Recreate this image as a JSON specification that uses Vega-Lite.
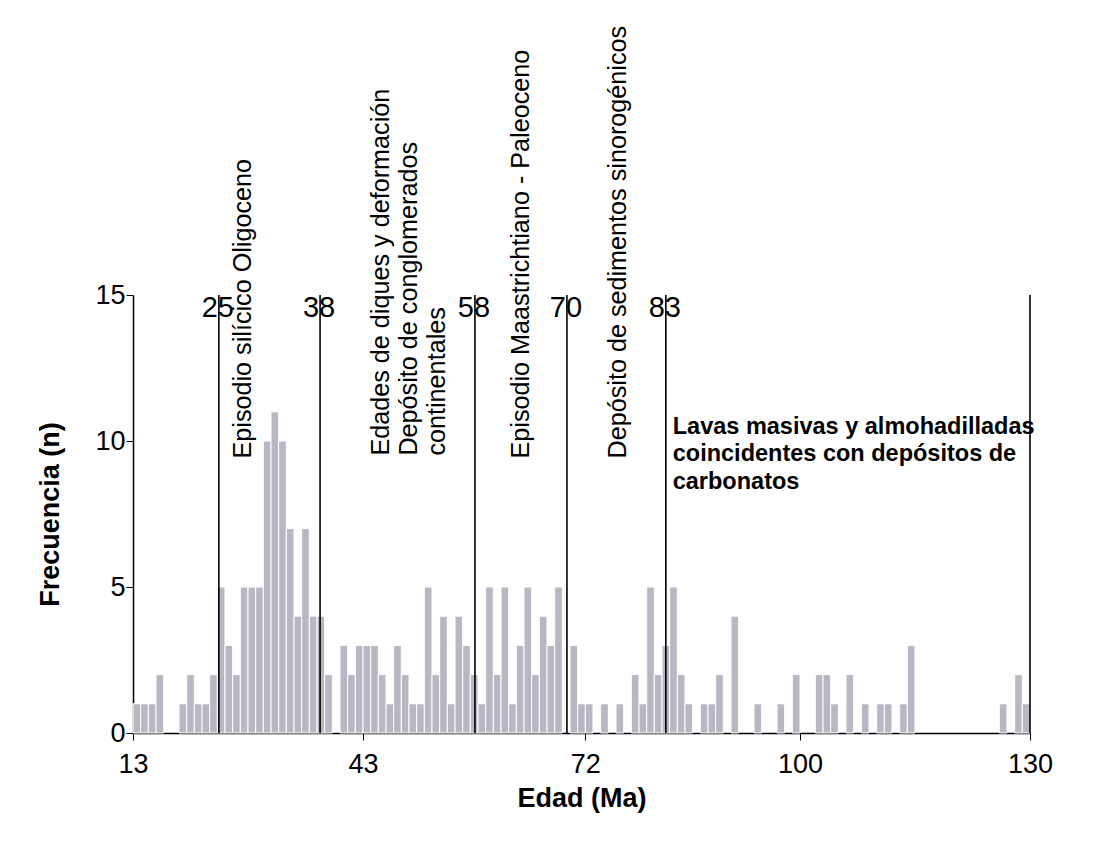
{
  "$schema": "https://vega.github.io/schema/vega-lite/v6.json",
  "width": 897,
  "height": 438,
  "autosize": {"type": "none"},
  "padding": {"left": 133, "top": 295, "right": 80, "bottom": 116},
  "background": "white",
  "config": {"view": {"stroke": null}, "font": "Liberation Sans"},
  "datasets": {
    "bars": [
      {"start": 13, "end": 14, "n": 1}, {"start": 14, "end": 15, "n": 1}, {"start": 15, "end": 16, "n": 1}, {"start": 16, "end": 17, "n": 2},
      {"start": 19, "end": 20, "n": 1}, {"start": 20, "end": 21, "n": 2}, {"start": 21, "end": 22, "n": 1}, {"start": 22, "end": 23, "n": 1},
      {"start": 23, "end": 24, "n": 2}, {"start": 24, "end": 25, "n": 5}, {"start": 25, "end": 26, "n": 3}, {"start": 26, "end": 27, "n": 2},
      {"start": 27, "end": 28, "n": 5}, {"start": 28, "end": 29, "n": 5}, {"start": 29, "end": 30, "n": 5}, {"start": 30, "end": 31, "n": 10},
      {"start": 31, "end": 32, "n": 11}, {"start": 32, "end": 33, "n": 10}, {"start": 33, "end": 34, "n": 7}, {"start": 34, "end": 35, "n": 4},
      {"start": 35, "end": 36, "n": 7}, {"start": 36, "end": 37, "n": 4}, {"start": 37, "end": 38, "n": 4}, {"start": 38, "end": 39, "n": 2},
      {"start": 40, "end": 41, "n": 3}, {"start": 41, "end": 42, "n": 2}, {"start": 42, "end": 43, "n": 3}, {"start": 43, "end": 44, "n": 3},
      {"start": 44, "end": 45, "n": 3}, {"start": 45, "end": 46, "n": 2}, {"start": 46, "end": 47, "n": 1}, {"start": 47, "end": 48, "n": 3},
      {"start": 48, "end": 49, "n": 2}, {"start": 49, "end": 50, "n": 1}, {"start": 50, "end": 51, "n": 1}, {"start": 51, "end": 52, "n": 5},
      {"start": 52, "end": 53, "n": 2}, {"start": 53, "end": 54, "n": 4}, {"start": 54, "end": 55, "n": 1}, {"start": 55, "end": 56, "n": 4},
      {"start": 56, "end": 57, "n": 3}, {"start": 57, "end": 58, "n": 2}, {"start": 58, "end": 59, "n": 1}, {"start": 59, "end": 60, "n": 5},
      {"start": 60, "end": 61, "n": 2}, {"start": 61, "end": 62, "n": 5}, {"start": 62, "end": 63, "n": 1}, {"start": 63, "end": 64, "n": 3},
      {"start": 64, "end": 65, "n": 5}, {"start": 65, "end": 66, "n": 2}, {"start": 66, "end": 67, "n": 4}, {"start": 67, "end": 68, "n": 3},
      {"start": 68, "end": 69, "n": 5}, {"start": 70, "end": 71, "n": 3}, {"start": 71, "end": 72, "n": 1}, {"start": 72, "end": 73, "n": 1},
      {"start": 74, "end": 75, "n": 1}, {"start": 76, "end": 77, "n": 1}, {"start": 78, "end": 79, "n": 2}, {"start": 79, "end": 80, "n": 1},
      {"start": 80, "end": 81, "n": 5}, {"start": 81, "end": 82, "n": 2}, {"start": 82, "end": 83, "n": 3}, {"start": 83, "end": 84, "n": 5},
      {"start": 84, "end": 85, "n": 2}, {"start": 85, "end": 86, "n": 1}, {"start": 87, "end": 88, "n": 1}, {"start": 88, "end": 89, "n": 1},
      {"start": 89, "end": 90, "n": 2}, {"start": 91, "end": 92, "n": 4}, {"start": 94, "end": 95, "n": 1}, {"start": 97, "end": 98, "n": 1},
      {"start": 99, "end": 100, "n": 2}, {"start": 102, "end": 103, "n": 2}, {"start": 103, "end": 104, "n": 2}, {"start": 104, "end": 105, "n": 1},
      {"start": 106, "end": 107, "n": 2}, {"start": 108, "end": 109, "n": 1}, {"start": 110, "end": 111, "n": 1}, {"start": 111, "end": 112, "n": 1},
      {"start": 113, "end": 114, "n": 1}, {"start": 114, "end": 115, "n": 3}, {"start": 126, "end": 127, "n": 1}, {"start": 128, "end": 129, "n": 2},
      {"start": 129, "end": 130, "n": 1}
    ],
    "lines": [
      {"pos": 24.2, "label": "25"}, {"pos": 37.4, "label": "38"}, {"pos": 57.6, "label": "58"},
      {"pos": 69.6, "label": "70"}, {"pos": 82.5, "label": "83"}, {"pos": 130, "label": ""}
    ],
    "vlabels": [
      {"x": 27.4, "y": 9.4, "text": "Episodio silícico Oligoceno"},
      {"x": 45.3, "y": 9.5, "text": "Edades de diques y deformación"},
      {"x": 49.0, "y": 9.5, "text": "Depósito de conglomerados"},
      {"x": 52.6, "y": 9.5, "text": "continentales"},
      {"x": 63.6, "y": 9.4, "text": "Episodio Maastrichtiano - Paleoceno"},
      {"x": 76.3, "y": 9.4, "text": "Depósito de sedimentos sinorogénicos"}
    ],
    "hlabels": [
      {"x": 83.4, "y": 10.48, "text": "Lavas masivas y almohadilladas"},
      {"x": 83.4, "y": 9.54, "text": "coincidentes con depósitos de"},
      {"x": 83.4, "y": 8.6, "text": "carbonatos"}
    ]
  },
  "layer": [
    {
      "data": {"name": "bars"},
      "mark": {"type": "rect", "color": "#b8b8c4", "stroke": "white", "strokeWidth": 1},
      "encoding": {
        "x": {
          "field": "start", "type": "quantitative",
          "scale": {"domain": [13, 130], "nice": false, "zero": false},
          "axis": {
            "values": [13, 43, 72, 100, 130], "grid": false, "title": "Edad (Ma)", "labelFlush": false,
            "domainColor": "black", "domainWidth": 1.5, "tickColor": "black", "tickSize": 7,
            "labelFontSize": 27, "labelColor": "black", "labelPadding": 11, "labelFont": "Liberation Sans",
            "titleFontSize": 27, "titleFontWeight": "bold", "titleColor": "black", "titlePadding": 8, "titleFont": "Liberation Sans"
          }
        },
        "x2": {"field": "end"},
        "y": {
          "field": "n", "type": "quantitative",
          "scale": {"domain": [0, 15], "nice": false},
          "axis": {
            "values": [0, 5, 10, 15], "grid": false, "title": "Frecuencia (n)",
            "domainColor": "black", "domainWidth": 1.5, "tickColor": "black", "tickSize": 7,
            "labelFontSize": 27, "labelColor": "black", "labelPadding": 1, "labelFont": "Liberation Sans",
            "titleFontSize": 27, "titleFontWeight": "bold", "titleColor": "black", "titlePadding": 30, "titleFont": "Liberation Sans"
          }
        },
        "y2": {"datum": 0}
      }
    },
    {
      "data": {"name": "lines"},
      "mark": {"type": "rule", "color": "black", "strokeWidth": 1.6},
      "encoding": {
        "x": {"field": "pos", "type": "quantitative"},
        "y": {"datum": 0},
        "y2": {"datum": 15}
      }
    },
    {
      "data": {"name": "lines"},
      "mark": {"type": "text", "fontSize": 29, "align": "center", "baseline": "middle", "color": "black", "font": "Liberation Sans", "dx": -1},
      "encoding": {
        "x": {"field": "pos", "type": "quantitative"},
        "y": {"datum": 14.55},
        "text": {"field": "label"}
      }
    },
    {
      "data": {"name": "vlabels"},
      "mark": {"type": "text", "angle": 270, "fontSize": 25.2, "align": "left", "baseline": "middle", "color": "black", "font": "Liberation Sans", "clip": false},
      "encoding": {
        "x": {"field": "x", "type": "quantitative"},
        "y": {"field": "y", "type": "quantitative"},
        "text": {"field": "text"}
      }
    },
    {
      "data": {"name": "hlabels"},
      "mark": {"type": "text", "fontSize": 23.5, "fontWeight": "bold", "align": "left", "baseline": "middle", "color": "black", "font": "Liberation Sans"},
      "encoding": {
        "x": {"field": "x", "type": "quantitative"},
        "y": {"field": "y", "type": "quantitative"},
        "text": {"field": "text"}
      }
    }
  ]
}
